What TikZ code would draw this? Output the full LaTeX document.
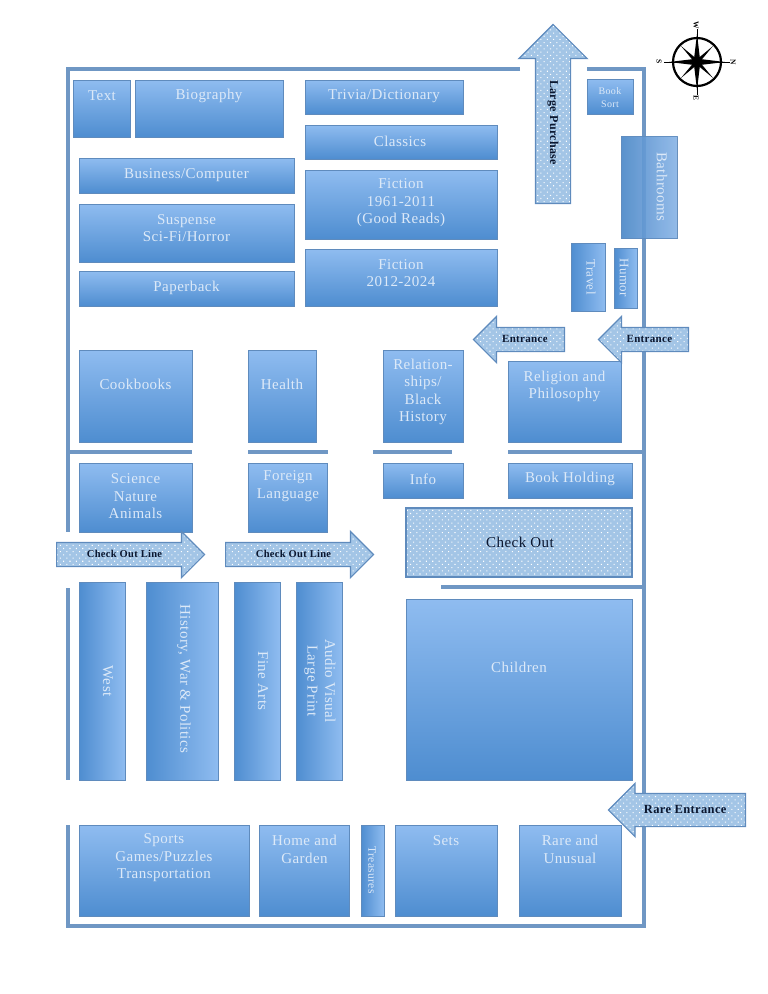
\documentclass[tikz,border=0pt]{standalone}
\usepackage{fontspec}
\setmainfont[LetterSpace=3]{Liberation Serif}
\usetikzlibrary{shapes.arrows,patterns.meta,shadows}
\definecolor{wallblue}{HTML}{6F97C4}
\definecolor{edgeblue}{HTML}{5F8BBD}
\definecolor{shelflight}{HTML}{8FBCF0}
\definecolor{shelfdark}{HTML}{4E8DD0}
\definecolor{arrowblue}{HTML}{A3C5E6}
\definecolor{labelpale}{HTML}{DCE9F8}
\definecolor{labelnavy}{HTML}{0B1730}

\begin{document}
\begin{tikzpicture}[x=1pt, y=-1pt,
    wall/.style={wallblue, line width=3.4pt},
    shelfbase/.style={draw=edgeblue, line width=1pt, inner sep=0pt,
        drop shadow={shadow xshift=0.6pt, shadow yshift=-1pt, opacity=0.3, fill=black}},
    shelf/.style={shelfbase, top color=shelflight, bottom color=shelfdark},
    shelfside/.style={shelfbase, left color=shelfdark, right color=shelflight},
    shelftext/.style={text=labelpale, align=center, font=\fontsize{15}{17.5}\selectfont},
    sidetext/.style={shelftext, font=\fontsize{13}{15}\selectfont},
    dotted box/.style={draw=edgeblue, line width=1.2pt, preaction={fill=arrowblue},
        pattern={Dots[distance=4.5pt, radius=0.75pt, angle=45]}, pattern color=white},
    wayarrow/.style={single arrow, dotted box, inner sep=0pt, text=labelnavy,
        single arrow head extend=11pt, minimum width=45, text height=14.5pt, text depth=8.5pt,
        font=\fontsize{11}{13}\bfseries\selectfont},
    compasstext/.style={font=\fontsize{7.5}{9}\bfseries\selectfont, inner sep=0pt}]
    \useasboundingbox (0,0) rectangle (768,994);

    % Outer walls
    \draw[wall] (520,69) -- (68,69) -- (68,532);
    \draw[wall] (587,69) -- (644,69) -- (644,926) -- (68,926) -- (68,825);
    \draw[wall] (68,588) -- (68,780);

    % Inner walls
    \draw[wall] (68,452) -- (192,452);
    \draw[wall] (248,452) -- (328,452);
    \draw[wall] (373,452) -- (452,452);
    \draw[wall] (508,452) -- (644,452);
    \draw[wall] (441,587) -- (644,587);

    % Top left shelves
    \node[shelf, minimum width=57, minimum height=57] (text) at (101.5,108.5) {};
    \node[shelftext] (textLabel) at (102,96) {Text};
    \node[shelf, minimum width=148, minimum height=57] (biography) at (209,108.5) {};
    \node[shelftext] (biographyLabel) at (209,96) {Biography};
    \node[shelf, minimum width=215, minimum height=35] (business) at (186.5,175.5) {};
    \node[shelftext] (businessLabel) at (186.5,175) {Business/Computer};
    \node[shelf, minimum width=215, minimum height=58] (suspense) at (186.5,233) {};
    \node[shelftext] (suspenseLabel) at (186.5,228) {Suspense\\Sci-Fi/Horror};
    \node[shelf, minimum width=215, minimum height=35] (paperback) at (186.5,288.5) {};
    \node[shelftext] (paperbackLabel) at (186.5,287.5) {Paperback};

    % Top middle shelves
    \node[shelf, minimum width=158, minimum height=34] (trivia) at (384,97) {};
    \node[shelftext] (triviaLabel) at (384,96) {Trivia/Dictionary};
    \node[shelf, minimum width=192, minimum height=34] (classics) at (401,142) {};
    \node[shelftext] (classicsLabel) at (400,141) {Classics};
    \node[shelf, minimum width=192, minimum height=69] (fictionOld) at (401,204.5) {};
    \node[shelftext] (fictionOldLabel) at (401,203) {Fiction\\1961-2011\\(Good Reads)};
    \node[shelf, minimum width=192, minimum height=57] (fictionNew) at (401,277.5) {};
    \node[shelftext] (fictionNewLabel) at (401,273) {Fiction\\2012-2024};

    % Top right shelves
    \node[shelf, minimum width=46, minimum height=35] (bookSort) at (610,96.5) {};
    \node[sidetext, font=\fontsize{10}{13}\selectfont] (bookSortLabel) at (610,97.5) {Book\\Sort};
    \node[shelfside, minimum width=56, minimum height=102, opacity=0.88] (bathrooms) at (649,187) {};
    \node[shelftext, rotate=-90] (bathroomsLabel) at (662,187) {Bathrooms};
    \node[shelfside, minimum width=34, minimum height=68] (travel) at (588,277) {};
    \node[sidetext, rotate=-90] (travelLabel) at (591,277) {Travel};
    \node[shelfside, minimum width=23, minimum height=60] (humor) at (625.5,278) {};
    \node[sidetext, rotate=-90] (humorLabel) at (624,278) {Humor};

    % Middle row
    \node[shelf, minimum width=113, minimum height=92] (cookbooks) at (135.5,396) {};
    \node[shelftext] (cookbooksLabel) at (135.5,384) {Cookbooks};
    \node[shelf, minimum width=68, minimum height=92] (health) at (282,396) {};
    \node[shelftext] (healthLabel) at (282,384) {Health};
    \node[shelf, minimum width=80, minimum height=92] (relationships) at (423,396) {};
    \node[shelftext] (relationshipsLabel) at (423,392) {Relation-\\ships/\\Black\\History};
    \node[shelf, minimum width=113, minimum height=81] (religion) at (564.5,401.5) {};
    \node[shelftext] (religionLabel) at (564.5,386.5) {Religion and\\Philosophy};

    % Row under the wall
    \node[shelf, minimum width=113, minimum height=69] (science) at (135.5,497.5) {};
    \node[shelftext] (scienceLabel) at (135.5,496.5) {Science\\Nature\\Animals};
    \node[shelf, minimum width=79, minimum height=69] (foreign) at (287.5,497.5) {};
    \node[shelftext] (foreignLabel) at (288,486) {Foreign\\Language};
    \node[shelf, minimum width=80, minimum height=35] (info) at (423,480.5) {};
    \node[shelftext] (infoLabel) at (423,479) {Info};
    \node[shelf, minimum width=124, minimum height=35] (holding) at (570,480.5) {};
    \node[shelftext] (holdingLabel) at (570,479) {Book Holding};
    \node[dotted box, minimum width=226, minimum height=69, inner sep=0pt] (checkOut) at (519,542.5) {};
    \node[shelftext, text=labelnavy] (checkOutLabel) at (520,542) {Check Out};

    % Long side shelves
    \node[shelfside, minimum width=46, minimum height=198] (west) at (102,681) {};
    \node[shelftext, rotate=-90] (westLabel) at (108,681) {West};
    \node[shelfside, minimum width=72, minimum height=198] (history) at (182,681) {};
    \node[shelftext, rotate=-90] (historyLabel) at (184,679) {History, War \& Politics};
    \node[shelfside, minimum width=46, minimum height=198] (fineArts) at (257,681) {};
    \node[shelftext, rotate=-90] (fineArtsLabel) at (263,681) {Fine Arts};
    \node[shelfside, minimum width=46, minimum height=198] (audio) at (319,681) {};
    \node[shelftext, rotate=-90] (audioLabel) at (320,681) {Audio Visual\\Large Print};
    \node[shelf, minimum width=226, minimum height=181] (children) at (519,689.5) {};
    \node[shelftext] (childrenLabel) at (519,667) {Children};

    % Bottom row
    \node[shelf, minimum width=170, minimum height=91] (sports) at (164,870.5) {};
    \node[shelftext] (sportsLabel) at (164,858) {Sports\\Games/Puzzles\\Transportation};
    \node[shelf, minimum width=90, minimum height=91] (home) at (304,870.5) {};
    \node[shelftext] (homeLabel) at (304.5,849.5) {Home and\\Garden};
    \node[shelfside, minimum width=23, minimum height=91] (treasures) at (372.5,870.5) {};
    \node[sidetext, font=\fontsize{11.5}{13}\selectfont, rotate=-90] (treasuresLabel) at (372,870) {Treasures};
    \node[shelf, minimum width=102, minimum height=91] (sets) at (446,870.5) {};
    \node[shelftext] (setsLabel) at (446,841) {Sets};
    \node[shelf, minimum width=102, minimum height=91] (rare) at (570,870.5) {};
    \node[shelftext] (rareLabel) at (570,849.5) {Rare and\\Unusual};

    % Direction arrows
    \node[wayarrow, shape border rotate=180, rotate=-90, minimum height=179, minimum width=67,
        text height=20pt, text depth=14pt, single arrow head extend=16.5pt,
        font=\fontsize{12}{14}\bfseries\selectfont, anchor=tail] (largePurchase) at (553,204) {Large Purchase};
    \node[wayarrow, shape border rotate=180, minimum height=91, anchor=tail] (entranceInner) at (565,339.5) {Entrance};
    \node[wayarrow, shape border rotate=180, minimum height=90, anchor=tail] (entranceOuter) at (689,339.5) {Entrance};
    \node[wayarrow, minimum height=148, font=\fontsize{10.5}{13}\bfseries\selectfont, anchor=tail] (lineLeft) at (56,554.5) {Check Out Line};
    \node[wayarrow, minimum height=148, font=\fontsize{10.5}{13}\bfseries\selectfont, anchor=tail] (lineRight) at (225,554.5) {Check Out Line};
    \node[wayarrow, shape border rotate=180, minimum height=137, minimum width=52, text height=19.5pt, text depth=12.5pt,
        single arrow head extend=10pt, font=\fontsize{12.5}{14}\bfseries\selectfont, anchor=tail] (rareEntrance) at (746,810) {Rare Entrance};

    % Compass
    \draw[black, line width=2.2pt] (697,62) circle (24);
    \draw[black, line width=0.5pt] (664,62) -- (730,62);
    \draw[black, line width=0.5pt] (697,29) -- (697,95);
    \fill[black] (697,34) -- (700,59) -- (725,62) -- (700,65) -- (697,90) -- (694,65) -- (669,62) -- (694,59) -- cycle;
    \fill[black] (681,46) -- (698.5,60.5) -- (713,78) -- (695.5,63.5) -- cycle;
    \fill[black] (713,46) -- (698.5,63.5) -- (681,78) -- (695.5,60.5) -- cycle;
    \node[compasstext, rotate=-90] (compassW) at (696,25) {W};
    \node[compasstext, rotate=-90] (compassS) at (659,62) {S};
    \node[compasstext, rotate=-90] (compassN) at (733,62) {N};
    \node[compasstext, rotate=-90] (compassE) at (696,98) {E};
\end{tikzpicture}
\end{document}
